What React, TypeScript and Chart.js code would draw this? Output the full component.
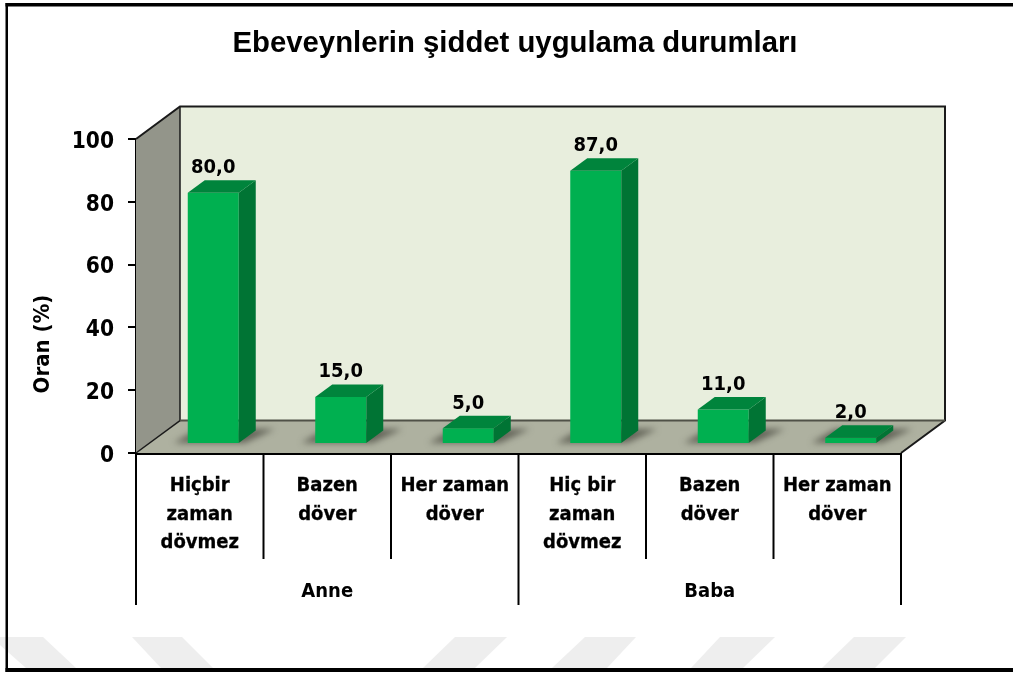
import React, { useEffect, useRef } from "react";
import { Chart, registerables } from "chart.js";

Chart.register(...registerables);

const categories: string[][] = [
  ["Hiçbir", "zaman", "dövmez"],
  ["Bazen", "döver"],
  ["Her zaman", "döver"],
  ["Hiç bir", "zaman", "dövmez"],
  ["Bazen", "döver"],
  ["Her zaman", "döver"],
];
const values: number[] = [80, 15, 5, 87, 11, 2];
const groups: string[] = ["Anne", "Baba"];
const groupSize = 3;
const titleText = "Ebeveynlerin şiddet uygulama durumları";
const axisTitle = "Oran (%)";
const FONT = '"DejaVu Sans Condensed", "Noto Sans", sans-serif';

const WALL = { dx: 44, dy: -32.5 };
const BAR = { ox: 13.5, oy: -9, dx: 17, dy: -12.5 };

const poly = (ctx: CanvasRenderingContext2D, pts: number[][], fill?: string, stroke?: string, lw = 2) => {
  ctx.beginPath();
  pts.forEach((p, i) => (i ? ctx.lineTo(p[0], p[1]) : ctx.moveTo(p[0], p[1])));
  ctx.closePath();
  if (fill) {
    ctx.fillStyle = fill;
    ctx.fill();
  }
  if (stroke) {
    ctx.strokeStyle = stroke;
    ctx.lineWidth = lw;
    ctx.stroke();
  }
};

const backdrop = {
  id: "backdrop",
  beforeDraw(chart: any) {
    const { ctx, width, height } = chart;
    ctx.save();
    ctx.fillStyle = "#ffffff";
    ctx.fillRect(0, 0, width, height);
    const marks = [
      [[0, 637], [43, 637], [76, 668], [26, 668], [0, 645]],
      [[132, 637], [182, 637], [213, 668], [161, 668]],
      [[455, 637], [507, 637], [475, 668], [423, 668]],
      [[585, 637], [636, 637], [607, 668], [552, 668]],
      [[720, 637], [775, 637], [743, 668], [691, 668]],
      [[854, 637], [906, 637], [875, 668], [822, 668]],
    ];
    marks.forEach((m) => poly(ctx, m, "#eeeeee"));
    ctx.fillStyle = "#000000";
    ctx.fillRect(5.5, 3, width, 3.5);
    ctx.fillRect(5.5, 3, 2.5, 669);
    ctx.fillRect(5.5, 668, width, 4);
    ctx.restore();

    // nudge the y tick labels to sit just below their tick marks, as in the source
    chart.scales.y.getLabelItems().forEach((item: any) => {
      if (!item._nudged) {
        item.options.translation[1] += 3;
        item._nudged = true;
      }
    });
  },
};

const room = {
  id: "room",
  beforeDatasetsDraw(chart: any) {
    const { ctx, chartArea: a } = chart;
    const { left: l, right: r, top: t, bottom: b } = a;
    const bl = l + WALL.dx;
    const br = r + WALL.dx;
    const bt = t + WALL.dy;
    const bb = b + WALL.dy;
    ctx.save();
    poly(ctx, [[bl, bt], [br, bt], [br, bb], [bl, bb]], "#e8eedd");
    poly(ctx, [[l, t], [bl, bt], [bl, bb], [l, b]], "#93958a");
    poly(ctx, [[l, b], [r, b], [br, bb], [bl, bb]], "#aeb1a0");
    ctx.lineJoin = "miter";
    ctx.strokeStyle = "#1a1a1a";
    ctx.lineWidth = 2;
    ctx.beginPath();
    ctx.moveTo(l, t);
    ctx.lineTo(bl, bt);
    ctx.lineTo(br, bt);
    ctx.lineTo(br, bb);
    ctx.lineTo(r, b);
    ctx.stroke();
    ctx.lineWidth = 1.5;
    ctx.beginPath();
    ctx.moveTo(bl, bt);
    ctx.lineTo(bl, bb);
    ctx.lineTo(l, b);
    ctx.stroke();
    ctx.strokeStyle = "#4f5147";
    ctx.lineWidth = 2;
    ctx.beginPath();
    ctx.moveTo(bl, bb);
    ctx.lineTo(br, bb);
    ctx.stroke();

    const meta = chart.getDatasetMeta(0);
    ctx.save();
    ctx.filter = "blur(3px)";
    meta.data.forEach((bar: any) => {
      const x0 = bar.x - bar.width / 2 + BAR.ox;
      const x1 = bar.x + bar.width / 2 + BAR.ox;
      const y0 = bar.base + BAR.oy;
      poly(ctx, [[x0 - 14, y0], [x1 + 6, y0], [x1 + 36, y0 - 14], [x0 + 10, y0 - 14]], "rgba(70,70,60,0.7)");
    });
    ctx.restore();
    ctx.restore();
    ctx.save();
    ctx.translate(BAR.ox, BAR.oy);
  },
  afterDatasetsDraw(chart: any) {
    const { ctx } = chart;
    ctx.restore();
    const meta = chart.getDatasetMeta(0);
    ctx.save();
    meta.data.forEach((bar: any, i: number) => {
      const x0 = bar.x - bar.width / 2 + BAR.ox;
      const x1 = bar.x + bar.width / 2 + BAR.ox;
      const top = bar.y + BAR.oy;
      const base = bar.base + BAR.oy;
      poly(ctx, [[x1, top], [x1 + BAR.dx, top + BAR.dy], [x1 + BAR.dx, base + BAR.dy], [x1, base]], "#007434");
      poly(ctx, [[x0, top], [x1, top], [x1 + BAR.dx, top + BAR.dy], [x0 + BAR.dx, top + BAR.dy]], "#00843c");
      ctx.fillStyle = "#000000";
      ctx.font = `bold 20px ${FONT}`;
      ctx.textAlign = "center";
      ctx.textBaseline = "middle";
      ctx.fillText(values[i].toFixed(1).replace(".", ","), (x0 + x1) / 2, top - 25);
    });
    ctx.restore();
  },
  afterDraw(chart: any) {
    const { ctx, chartArea: a } = chart;
    const n = categories.length;
    const step = (a.right - a.left) / n;
    ctx.save();
    ctx.strokeStyle = "#000000";
    ctx.lineWidth = 2;
    for (let i = 0; i <= n; i++) {
      const px = a.left + i * step;
      ctx.beginPath();
      ctx.moveTo(px, a.bottom);
      ctx.lineTo(px, a.bottom + (i % groupSize === 0 ? 152 : 106));
      ctx.stroke();
    }
    ctx.fillStyle = "#000000";
    ctx.textAlign = "center";
    ctx.textBaseline = "middle";
    ctx.font = `bold 20px ${FONT}`;
    groups.forEach((g, i) => {
      const mid = a.left + (i + 0.5) * groupSize * step;
      ctx.fillText(g, mid, a.bottom + 139);
    });
    ctx.translate(43, 344);
    ctx.rotate(-Math.PI / 2);
    ctx.font = `bold 22px ${FONT}`;
    ctx.fillText(axisTitle, 0, 0);
    ctx.restore();
  },
  afterLayout(chart: any) {
    const t = chart.titleBlock;
    if (t) {
      t.left = 17;
      t.right = chart.width;
    }
  },
};

export default function App() {
  const ref = useRef<HTMLCanvasElement | null>(null);
  useEffect(() => {
    const chart = new Chart(ref.current as HTMLCanvasElement, {
      type: "bar",
      data: {
        labels: categories,
        datasets: [
          {
            data: values,
            backgroundColor: "#00b050",
            barPercentage: 0.4,
            categoryPercentage: 1,
            clip: false,
          } as any,
        ],
      },
      plugins: [backdrop, room],
      options: {
        responsive: false,
        animation: false,
        layout: { padding: { left: 0, right: 112, top: 0, bottom: 0 } },
        plugins: {
          legend: { display: false },
          tooltip: { enabled: false },
          title: {
            display: true,
            text: titleText,
            color: "#000000",
            font: { family: '"Liberation Sans", Arial, sans-serif', size: 29.3, weight: "bold", lineHeight: 1.2 },
            padding: { top: 26.5, bottom: 77.3 },
          },
        },
        scales: {
          x: {
            z: 1,
            grid: { display: false },
            border: { display: true, color: "#000000", width: 3 },
            ticks: {
              autoSkip: false,
              maxRotation: 0,
              minRotation: 0,
              padding: 11,
              color: "#000000",
              textStrokeColor: "#000000",
              textStrokeWidth: 0.3,
              font: { family: FONT, size: 20, weight: "bold", lineHeight: 1.425 },
            },
            afterFit: (s: any) => {
              s.height = 220;
            },
          },
          y: {
            z: 1,
            min: 0,
            max: 100,
            grid: { drawOnChartArea: false, color: "#000000", tickLength: 8, lineWidth: 2 },
            border: { color: "#000000", width: 2 },
            ticks: {
              stepSize: 20,
              padding: 14,
              color: "#000000",
              font: { family: FONT, size: 22.5, weight: "bold" },
            },
            afterFit: (s: any) => {
              s.width = 136;
            },
          },
        },
      },
    });
    return () => chart.destroy();
  }, []);
  return (
    <div style={{ position: "fixed", left: 0, top: 0, width: 1013, height: 673 }}>
      <canvas ref={ref} width={1013} height={673} style={{ display: "block" }} />
    </div>
  );
}
